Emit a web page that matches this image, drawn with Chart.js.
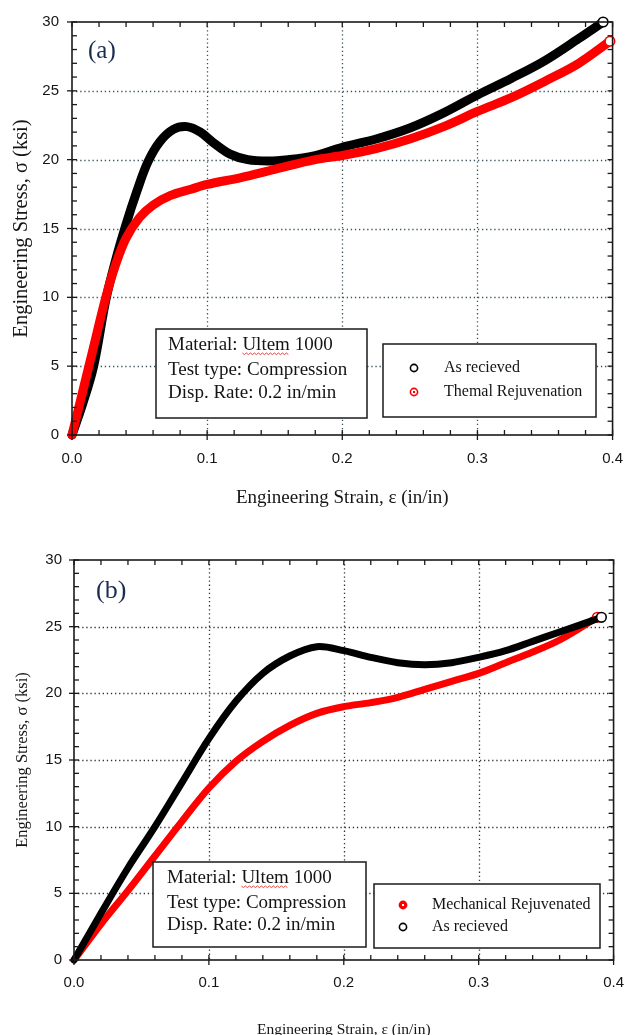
<!DOCTYPE html>
<html>
<head>
<meta charset="utf-8">
<title>Ultem 1000 compression curves</title>
<script src="https://cdn.jsdelivr.net/npm/chart.js@4.4.0/dist/chart.umd.min.js"></script>
<style>
  html, body { margin: 0; padding: 0; background: #fff; }
  #wrap { position: relative; width: 638px; height: 1035px; overflow: hidden; }
  canvas { position: absolute; left: 0; }
  #chartA { top: 0; }
  #chartB { top: 510px; }
</style>
</head>
<body>
<div id="wrap">
  <canvas id="chartA" width="638" height="510"></canvas>
  <canvas id="chartB" width="638" height="535"></canvas>
</div>
<script>
// axis tick values
const strainTicks = [0, 0.1, 0.2, 0.3, 0.4];
const stressTicks = [0, 5, 10, 15, 20, 25, 30];

// (a) as received vs thermal rejuvenation -- strain (in/in), stress (ksi)
const aReceivedStrain = [0, 0.008, 0.016, 0.025, 0.032, 0.04, 0.048, 0.056, 0.065, 0.075, 0.085, 0.095, 0.105, 0.117, 0.13, 0.145, 0.16, 0.18, 0.2, 0.225, 0.25, 0.275, 0.3, 0.325, 0.35, 0.375, 0.393];
const aReceivedStress = [0, 2.3, 5, 9.8, 12.6, 15.3, 17.7, 19.8, 21.3, 22.2, 22.4, 22.0, 21.2, 20.4, 20.0, 19.9, 20.0, 20.3, 20.9, 21.5, 22.3, 23.4, 24.7, 25.9, 27.2, 28.8, 30];
const aThermalStrain = [0, 0.007, 0.015, 0.025, 0.032, 0.04, 0.05, 0.06, 0.073, 0.088, 0.1, 0.125, 0.15, 0.18, 0.2, 0.225, 0.25, 0.275, 0.3, 0.325, 0.35, 0.375, 0.398];
const aThermalStress = [0, 2.8, 6.0, 10.0, 12.3, 14.3, 15.8, 16.7, 17.4, 17.85, 18.2, 18.7, 19.3, 20.0, 20.3, 20.8, 21.5, 22.4, 23.5, 24.5, 25.7, 27.0, 28.6];

// (b) mechanical rejuvenation vs as received
const bMechStrain = [0, 0.02, 0.04, 0.06, 0.08, 0.1, 0.12, 0.14, 0.16, 0.18, 0.2, 0.22, 0.24, 0.26, 0.28, 0.3, 0.32, 0.34, 0.36, 0.388];
const bMechStress = [0, 2.7, 5.2, 7.8, 10.4, 12.9, 14.9, 16.4, 17.6, 18.5, 19.0, 19.3, 19.7, 20.3, 20.9, 21.5, 22.3, 23.1, 24.0, 25.7];
const bReceivedStrain = [0, 0.02, 0.04, 0.06, 0.08, 0.1, 0.12, 0.14, 0.16, 0.18, 0.2, 0.22, 0.24, 0.26, 0.28, 0.3, 0.32, 0.34, 0.36, 0.38, 0.391];
const bReceivedStress = [0, 3.5, 6.9, 10.0, 13.3, 16.6, 19.4, 21.5, 22.8, 23.5, 23.2, 22.7, 22.3, 22.15, 22.3, 22.7, 23.2, 23.9, 24.6, 25.3, 25.7];

const infoLines = ['Material: Ultem 1000', 'Test type: Compression', 'Disp. Rate: 0.2 in/min'];

const SANS = "'Liberation Sans', Arial, sans-serif";
const SERIF = "'Liberation Serif', 'Times New Roman', serif";

const toPoints = (xs, ys) => xs.map((v, i) => ({ x: v, y: ys[i] }));

function seg(ctx, x1, y1, x2, y2) {
    ctx.beginPath();
    ctx.moveTo(x1, y1);
    ctx.lineTo(x2, y2);
    ctx.stroke();
}

function drawMarker(ctx, kind, color, cx, cy) {
    ctx.save();
    ctx.setLineDash([]);
    ctx.strokeStyle = color;
    ctx.lineWidth = 1.6;
    ctx.beginPath();
    ctx.arc(cx, cy, 3.6, 0, Math.PI * 2);
    if (kind === 'filled') {
        ctx.fillStyle = color;
        ctx.fill();
        ctx.fillStyle = '#fff';
        ctx.fillRect(cx - 1, cy - 1, 2, 2);
    } else {
        ctx.fillStyle = '#fff';
        ctx.fill();
    }
    ctx.stroke();
    if (kind === 'ringDot') {
        ctx.fillStyle = color;
        ctx.fillRect(cx - 1, cy - 1, 2, 2);
    }
    ctx.restore();
}

// frame, dotted grid, inward minor ticks, panel tag, note box and legend box
const framePlugin = {
    id: 'frame',
    beforeDatasetsDraw(chart, args, opts) {
        const { ctx, chartArea: a, scales: { x, y } } = chart;
        ctx.save();
        ctx.strokeStyle = opts.gridColor;
        ctx.lineWidth = 1.3;
        ctx.setLineDash([1.3, 2.8]);
        strainTicks.slice(1, -1).forEach(v => {
            const px = Math.round(x.getPixelForValue(v)) + 0.5;
            seg(ctx, px, a.top, px, a.bottom);
        });
        stressTicks.slice(1, -1).forEach(v => {
            const py = Math.round(y.getPixelForValue(v)) + 0.5;
            seg(ctx, a.left, py, a.right, py);
        });
        ctx.restore();
    },
    afterDatasetsDraw(chart, args, opts) {
        const { ctx, chartArea: a, scales: { x, y } } = chart;
        ctx.save();
        ctx.setLineDash([]);
        ctx.strokeStyle = '#1a1a1a';

        // plot frame
        ctx.lineWidth = 1.6;
        ctx.strokeRect(a.left, a.top, a.right - a.left, a.bottom - a.top);

        // tick marks: minor inward, major outward on bottom/left
        ctx.lineWidth = 1.3;
        for (let i = 0; i <= 20; i++) {
            const px = x.getPixelForValue(i * 0.02);
            seg(ctx, px, a.bottom, px, a.bottom - 5);
            seg(ctx, px, a.top, px, a.top + 5);
            if (i % 5 === 0) seg(ctx, px, a.bottom, px, a.bottom + 5);
        }
        for (let i = 0; i <= 30; i++) {
            const py = y.getPixelForValue(i);
            seg(ctx, a.left, py, a.left + 5, py);
            seg(ctx, a.right, py, a.right - 5, py);
            if (i % 5 === 0) seg(ctx, a.left, py, a.left - 5, py);
        }

        // panel tag
        ctx.fillStyle = '#1c2c4f';
        ctx.font = `${opts.tagSize}px ${SERIF}`;
        ctx.textAlign = 'left';
        ctx.textBaseline = 'middle';
        ctx.fillText(opts.tag, a.left + opts.tagAt[0], a.top + opts.tagAt[1]);

        // note box
        const n = opts.note;
        ctx.fillStyle = '#fff';
        ctx.fillRect(a.left + n.x, a.top + n.y, n.w, n.h);
        ctx.lineWidth = 1.5;
        ctx.strokeRect(a.left + n.x, a.top + n.y, n.w, n.h);
        ctx.fillStyle = '#141414';
        ctx.font = `${n.size}px ${SERIF}`;
        infoLines.forEach((t, i) => {
            ctx.fillText(t, a.left + n.tx, a.top + n.rows[i]);
        });
        // spell-check squiggle under "Ultem"
        const sx = a.left + n.tx + ctx.measureText('Material: ').width;
        const sw = ctx.measureText('Ultem').width;
        const sy = a.top + n.rows[0] + n.size * 0.42;
        ctx.strokeStyle = '#e03030';
        ctx.lineWidth = 0.9;
        ctx.beginPath();
        for (let k = 0; k <= sw; k += 2) {
            const yy = sy + ((k / 2) % 2 === 0 ? 0 : 1.6);
            if (k === 0) ctx.moveTo(sx + k, yy); else ctx.lineTo(sx + k, yy);
        }
        ctx.stroke();

        // legend box
        const L = opts.legend;
        ctx.strokeStyle = '#1a1a1a';
        ctx.fillStyle = '#fff';
        ctx.fillRect(a.left + L.x, a.top + L.y, L.w, L.h);
        ctx.lineWidth = 1.5;
        ctx.strokeRect(a.left + L.x, a.top + L.y, L.w, L.h);
        ctx.font = `${L.size}px ${SERIF}`;
        L.order.forEach((di, i) => {
            const ds = chart.data.datasets[di];
            const cy = a.top + L.rows[i];
            drawMarker(ctx, ds.legendMarker, ds.borderColor, a.left + L.mx, cy);
            ctx.fillStyle = '#141414';
            ctx.fillText(ds.label, a.left + L.tx, cy);
        });
        ctx.restore();
    }
};

function curve(label, xs, ys, color, width, marker, order) {
    const pts = toPoints(xs, ys);
    const last = pts.length - 1;
    return {
        label: label,
        data: pts,
        borderColor: color,
        borderWidth: width,
        borderCapStyle: 'round',
        borderJoinStyle: 'round',
        tension: 0.35,
        pointRadius: c => (c.dataIndex === last ? 4.8 : 0),
        pointBackgroundColor: '#fff',
        pointBorderColor: color,
        pointBorderWidth: 1.6,
        legendMarker: marker,
        order: order,
        clip: 12
    };
}

function makeChart(id, cfg) {
    return new Chart(document.getElementById(id), {
        type: 'line',
        data: { datasets: cfg.datasets },
        options: {
            responsive: false,
            animation: false,
            events: [],
            layout: { padding: { left: 0, top: cfg.top, right: 13, bottom: 0 } },
            plugins: {
                legend: { display: false },
                tooltip: { enabled: false },
                frame: cfg.frame
            },
            scales: {
                x: {
                    type: 'linear',
                    min: 0,
                    max: 0.4,
                    afterBuildTicks: s => { s.ticks = strainTicks.map(v => ({ value: v })); },
                    afterFit: s => { s.height = cfg.xHeight; },
                    grid: { display: false, drawTicks: false },
                    border: { display: false },
                    ticks: {
                        padding: cfg.xPad,
                        color: '#151515',
                        font: { family: SANS, size: 15 },
                        maxRotation: 0,
                        callback: v => v.toFixed(1)
                    },
                    title: {
                        display: true,
                        text: 'Engineering Strain, \u03b5 (in/in)',
                        color: '#151515',
                        font: { family: SERIF, size: cfg.xTitleSize },
                        padding: { top: 0, bottom: cfg.xTitlePad }
                    }
                },
                y: {
                    type: 'linear',
                    min: 0,
                    max: 30,
                    afterBuildTicks: s => { s.ticks = stressTicks.map(v => ({ value: v })); },
                    afterFit: s => { s.width = cfg.yWidth; },
                    grid: { display: false, drawTicks: false },
                    border: { display: false },
                    ticks: {
                        padding: cfg.yPad,
                        color: '#151515',
                        font: { family: SANS, size: 15 }
                    },
                    title: {
                        display: true,
                        text: 'Engineering Stress, \u03c3 (ksi)',
                        color: '#151515',
                        font: { family: SERIF, size: cfg.yTitleSize },
                        padding: { top: cfg.yTitlePad, bottom: 0 }
                    }
                }
            }
        },
        plugins: [framePlugin]
    });
}

// ==========================================
// (a) thermal rejuvenation
// ==========================================
makeChart('chartA', {
    top: 17, xHeight: 75, yWidth: 72,
    xPad: 15, yPad: 13,
    xTitleSize: 19, xTitlePad: 1,
    yTitleSize: 20.5, yTitlePad: 9,
    datasets: [
        curve('As recieved', aReceivedStrain, aReceivedStress, '#000000', 9, 'ring', 1),
        curve('Themal Rejuvenation', aThermalStrain, aThermalStress, '#ff0000', 9, 'ringDot', 0)
    ],
    frame: {
        gridColor: '#36545a',
        tag: '(a)', tagSize: 25, tagAt: [16, 29],
        note: { x: 84, y: 307, w: 211, h: 89, tx: 96, rows: [323, 348, 371], size: 19 },
        legend: { x: 311, y: 322, w: 213, h: 73, mx: 342, tx: 372, rows: [346, 370], size: 16, order: [0, 1] }
    }
});

// ==========================================
// (b) mechanical rejuvenation
// ==========================================
makeChart('chartB', {
    top: 50, xHeight: 85, yWidth: 74,
    xPad: 14, yPad: 12,
    xTitleSize: 15.5, xTitlePad: 6,
    yTitleSize: 16.5, yTitlePad: 13,
    datasets: [
        curve('Mechanical Rejuvenated', bMechStrain, bMechStress, '#ff0000', 7, 'filled', 1),
        curve('As recieved', bReceivedStrain, bReceivedStress, '#000000', 7, 'ring', 0)
    ],
    frame: {
        gridColor: '#333333',
        tag: '(b)', tagSize: 26, tagAt: [22, 31],
        note: { x: 79, y: 302, w: 213, h: 85, tx: 93, rows: [318, 343, 365], size: 19 },
        legend: { x: 300, y: 324, w: 226, h: 64, mx: 329, tx: 358, rows: [345, 367], size: 16, order: [0, 1] }
    }
});
</script>
</body>
</html>
